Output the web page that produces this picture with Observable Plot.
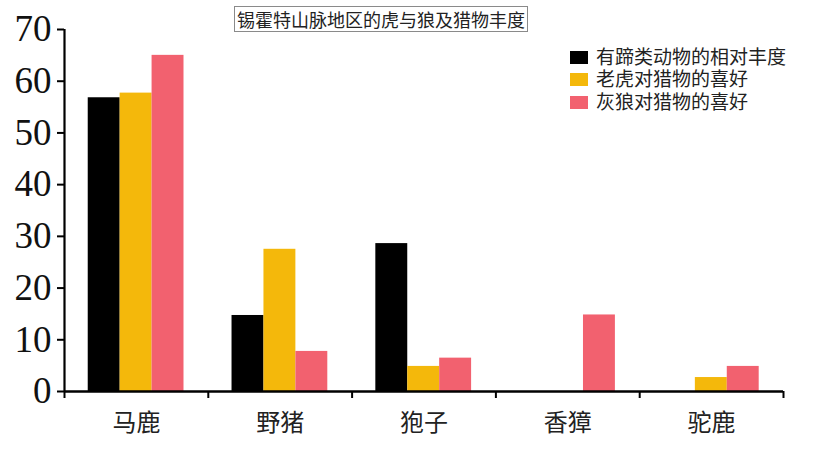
<!DOCTYPE html>
<html><head><meta charset="utf-8">
<script src="https://cdn.jsdelivr.net/npm/d3@7"></script>
<script src="https://cdn.jsdelivr.net/npm/@observablehq/plot@0.6"></script>
<style>
body{margin:0;background:#fff;}
#wrap{position:relative;width:813px;height:450px;overflow:hidden;}
#wrap svg{position:absolute;left:0;top:0;}
#title{position:absolute;left:234px;top:6px;width:294px;height:26px;box-sizing:border-box;border:1px solid #8a8a8a;font-family:"Noto Sans CJK SC",sans-serif;font-size:18px;line-height:24px;color:#222;text-align:center;white-space:nowrap;background:#fff;}
#legend{position:absolute;left:570px;top:46px;font-family:"DejaVu Sans","Noto Sans CJK SC",sans-serif;font-size:19px;line-height:21px;color:#222;}
#legend .row{display:flex;align-items:center;height:22.5px;white-space:nowrap;}
#legend .sw{width:18px;height:13px;margin-right:8px;flex:none;}
#legend .tx{display:inline-block;height:21px;line-height:21px;overflow:visible;}
</style></head><body><div id="wrap"></div>
<script>
const categories = ["马鹿","野猪","狍子","香獐","驼鹿"];
const seriesNames = ["有蹄类动物的相对丰度","老虎对猎物的喜好","灰狼对猎物的喜好"];
const abundance = [56.8,14.7,28.6,0,0];
const tigerPref = [57.7,27.5,4.85,0,2.7];
const wolfPref = [65.0,7.75,6.45,14.8,4.85];
const yTicks = [0,10,20,30,40,50,60,70];
const colors = ["#000000","#F4B80B","#F2616F"];
const titleText = "锡霍特山脉地区的虎与狼及猎物丰度";

const seriesValues = [abundance, tigerPref, wolfPref];
const groupStart = 0.165, barFrac = 0.222;
const rows = [];
seriesValues.forEach((vals, j) => vals.forEach((v, i) => rows.push({cat: categories[i], series: seriesNames[j], value: v, i, j})));

const chart = Plot.plot({
  width: 813, height: 450,
  marginLeft: 64, marginRight: 30, marginTop: 29, marginBottom: 59,
  x: {domain: [0, categories.length], axis: null},
  y: {domain: [0, 70], axis: null},
  color: {domain: seriesNames, range: colors},
  marks: [
    Plot.rectY(rows, {x1: d => d.i + groupStart + d.j * barFrac, x2: d => d.i + groupStart + (d.j + 1) * barFrac, y: "value", fill: "series"}),
    Plot.axisY({ticks: yTicks, tickSize: 7, tickPadding: 6, fontSize: 37, fontFamily: "Liberation Serif", strokeWidth: 2, label: null, fill: "#111"}),
    Plot.ruleX([0], {strokeWidth: 2.2}),
    Plot.ruleY([0], {strokeWidth: 2.5}),
    Plot.axisX({ticks: d3.range(categories.length + 1), tickSize: 7, tickFormat: () => "", strokeWidth: 2, label: null}),
    Plot.axisX({ticks: categories.map((c, i) => i + 0.5), tickFormat: v => categories[Math.floor(v)], tickSize: 0, tickPadding: 22, fontSize: 24, fontFamily: "Noto Sans CJK SC", label: null, fill: "#222"})
  ]
});
const wrap = document.getElementById("wrap");
wrap.appendChild(chart);
const t = document.createElement("div"); t.id = "title"; t.textContent = titleText; wrap.appendChild(t);
const lg = document.createElement("div"); lg.id = "legend";
seriesNames.forEach((s, j) => {
  const r = document.createElement("div"); r.className = "row";
  const sw = document.createElement("span"); sw.className = "sw"; sw.style.background = colors[j];
  const tx = document.createElement("span"); tx.className = "tx"; tx.textContent = s;
  r.appendChild(sw); r.appendChild(tx); lg.appendChild(r);
});
wrap.appendChild(lg);
</script></body></html>
